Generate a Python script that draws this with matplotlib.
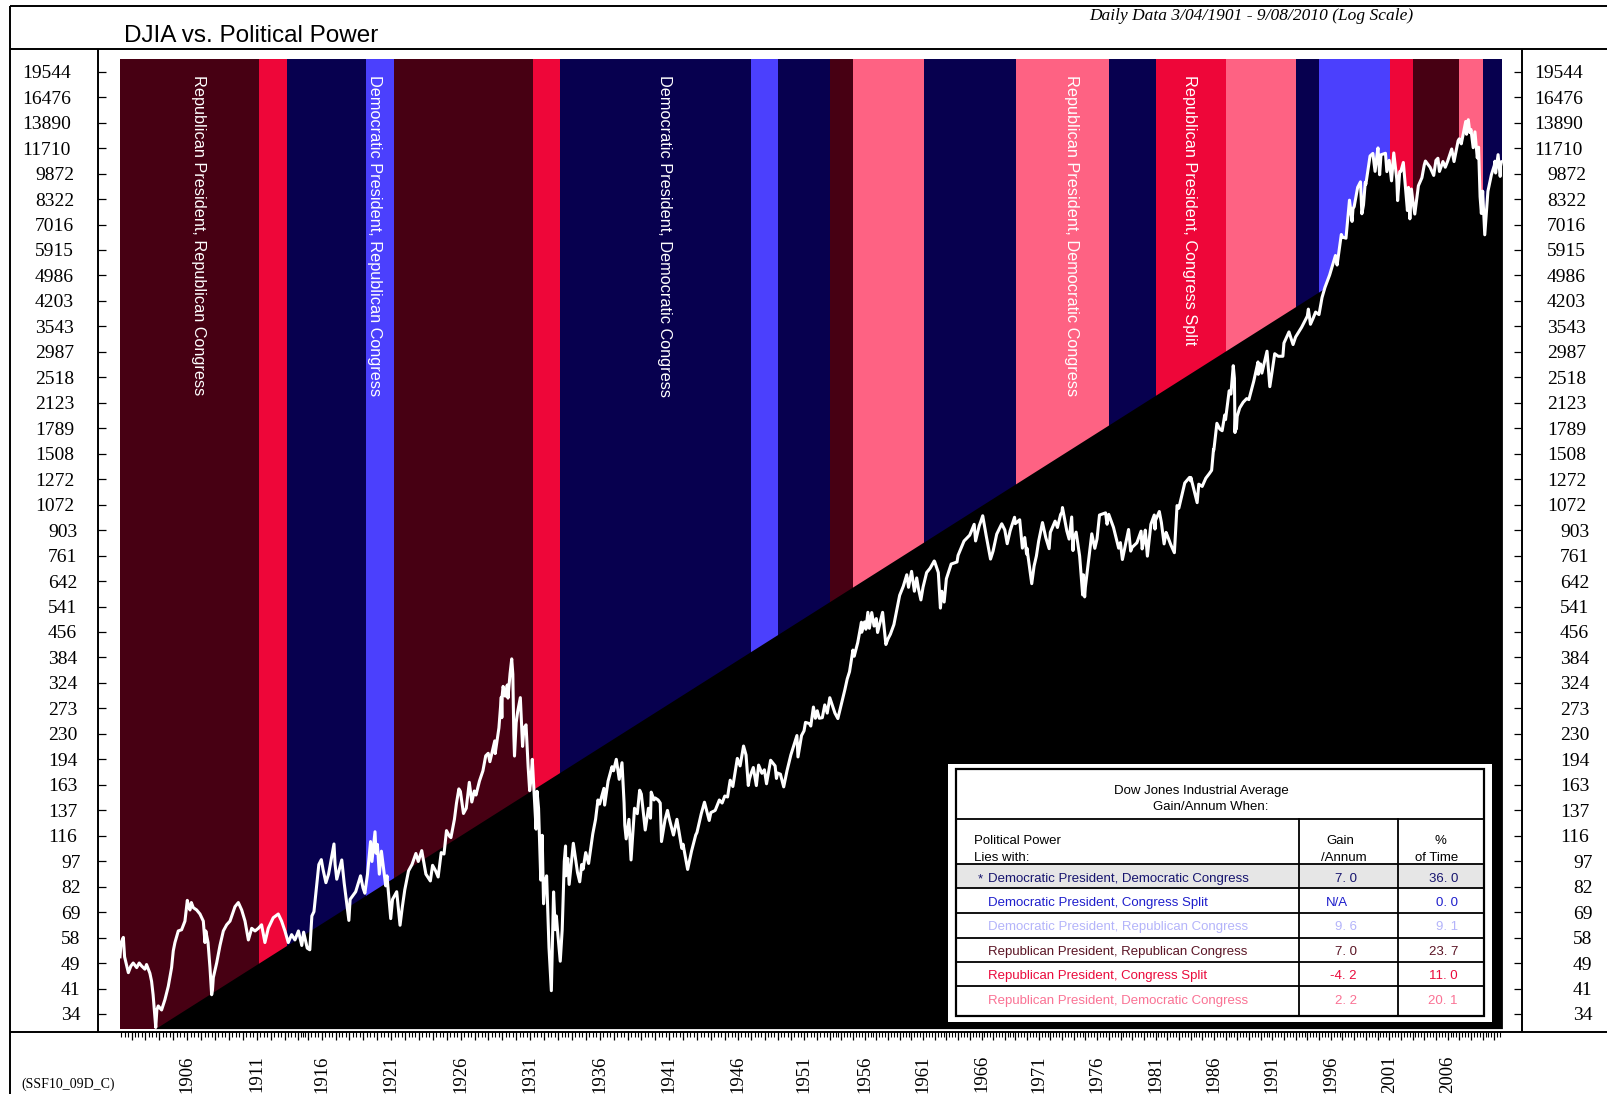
import numpy as np
import matplotlib.pyplot as plt
from matplotlib.patches import Rectangle
from matplotlib.ticker import FixedLocator, NullLocator
from matplotlib.transforms import blended_transform_factory

W, H = 1608, 1094
SERIF = ['Liberation Serif', 'DejaVu Serif']
SANS = ['Liberation Sans', 'DejaVu Sans']
plt.rcParams['font.family'] = SERIF

# trading sessions per calendar year: Saturday sessions before 1952,
# exchange shut Aug-Dec 1914, Wednesday closings in 1968
td_first_year = 1901
td_counts = np.array([300] * 13 + [200] + [300] * 30 + [285] * 7 + [265]
                     + [252] * 15 + [226] + [252] * 43)
td_start = np.concatenate([[0], np.cumsum(td_counts)])


def tday(t):
    t = np.asarray(t, dtype=float)
    yr = np.floor(t).astype(int)
    i = yr - td_first_year
    return td_start[i] + (t - yr) * td_counts[i]


# ---- DJIA (decimal year, close) ----
dates_1901 = [1901.17, 1901.25, 1901.41, 1901.50, 1901.77, 1901.95, 1902.12, 1902.37, 1902.55, 1902.73,
              1902.96, 1903.08, 1903.32, 1903.44, 1903.55, 1903.65, 1903.74, 1903.82, 1903.92, 1904.16,
              1904.40, 1904.64, 1904.88, 1905.00, 1905.12, 1905.36, 1905.60, 1905.84, 1906.01, 1906.10,
              1906.20, 1906.30, 1906.44, 1906.68, 1906.92, 1907.16, 1907.28, 1907.34, 1907.50, 1907.64,
              1907.76, 1907.82, 1907.88, 1908.12, 1908.36, 1908.60, 1908.84, 1909.08, 1909.44, 1909.68,
              1909.92, 1910.16, 1910.40, 1910.64, 1910.88, 1911.12, 1911.35, 1911.59, 1911.83, 1912.19,
              1912.55, 1912.79, 1913.03, 1913.27, 1913.51, 1913.75, 1914.00, 1914.36, 1914.56, 1914.95,
              1915.15, 1915.30, 1915.45, 1915.60, 1915.80, 1915.98, 1916.10, 1916.31, 1916.50, 1916.70,
              1916.89, 1916.97, 1917.09, 1917.45, 1917.62, 1917.96, 1918.05, 1918.45, 1918.80, 1918.98,
              1919.11, 1919.30, 1919.52, 1919.62, 1919.84, 1919.91, 1919.98, 1920.01, 1920.15, 1920.30,
              1920.61, 1920.70, 1920.97]
values_1901 = [51.7, 56.9, 58.9, 51.7, 46.5, 48.6, 49.6, 48.1, 49.6, 48.6,
               47.6, 49.1, 46.3, 43.9, 40.1, 35.7, 32.2, 36.2, 37.2, 36.2,
               38.8, 42.4, 48.1, 53.8, 56.9, 61.5, 62.0, 65.7, 75.5, 72.4,
               70.8, 74.4, 71.9, 70.8, 68.9, 65.7, 56.9, 61.5, 56.9, 48.1,
               40.1, 41.4, 45.0, 49.6, 55.8, 61.5, 64.1, 65.7, 72.4, 74.4,
               70.8, 65.7, 57.9, 62.6, 61.5, 62.6, 64.1, 56.9, 62.6, 67.2,
               68.9, 65.7, 61.5, 56.9, 60.0, 57.9, 61.5, 55.8, 61.0, 54.8,
               54.2, 68, 70, 80, 96, 99.2, 93, 85, 90, 100,
               110.2, 96, 87, 99, 85, 66, 76, 80, 89, 82,
               79.2, 90, 112, 98, 119.6, 103.6, 107, 109.9, 90, 105,
               83.2, 89, 66.8]

dates_1921 = [1921.10, 1921.40, 1921.64, 1921.80, 1921.98, 1922.25, 1922.50, 1922.78, 1922.95, 1923.20,
              1923.50, 1923.82, 1923.98, 1924.20, 1924.38, 1924.60, 1924.80, 1924.98, 1925.20, 1925.30,
              1925.55, 1925.70, 1925.87, 1925.98, 1926.20, 1926.40, 1926.62, 1926.80, 1926.98, 1927.10,
              1927.35, 1927.60, 1927.80, 1927.98, 1928.10, 1928.45, 1928.48, 1928.75, 1928.92, 1928.96,
              1928.99, 1929.05, 1929.20, 1929.35, 1929.40, 1929.55, 1929.67, 1929.75, 1929.82, 1929.87,
              1929.99, 1930.10, 1930.29, 1930.45, 1930.55, 1930.70, 1930.85, 1930.96, 1931.06, 1931.15,
              1931.42, 1931.49, 1931.60, 1931.76, 1931.86, 1931.96, 1932.05, 1932.18, 1932.35, 1932.52,
              1932.68, 1932.80, 1932.88, 1932.99, 1933.16, 1933.30, 1933.45, 1933.54, 1933.56, 1933.70,
              1933.80, 1933.99, 1934.10, 1934.40, 1934.56, 1934.70, 1934.80, 1934.99, 1935.20, 1935.50,
              1935.70, 1935.87, 1935.99, 1936.30, 1936.35, 1936.60, 1936.88, 1936.99, 1937.19, 1937.40,
              1937.60, 1937.75, 1937.80, 1937.90, 1937.99, 1938.10, 1938.25, 1938.50, 1938.70, 1938.87,
              1938.99, 1939.27, 1939.50, 1939.65, 1939.70, 1939.90, 1939.99, 1940.20, 1940.35, 1940.44,
              1940.70, 1940.87, 1940.99, 1941.30, 1941.55, 1941.90, 1941.99, 1942.32, 1942.60, 1942.90,
              1942.99, 1943.30, 1943.53, 1943.87, 1943.99, 1944.30, 1944.60, 1944.80, 1944.99]
values_1921 = [76, 80, 63.9, 72, 81, 92, 96, 103.4, 98, 105.4,
               90, 86, 95.5, 92, 88.3, 104, 103, 120.5, 116, 115,
               130, 145, 159.4, 156.7, 135.2, 140, 166.6, 146, 157.2, 153,
               168, 180, 199, 202.4, 191.3, 220, 202, 240, 295, 257,
               300, 317, 297, 320, 293, 345, 381.2, 344, 230, 198.7,
               248.5, 268, 294, 212, 240, 245, 185, 157.5, 171, 194.4,
               121.7, 156.9, 140, 86.5, 116.8, 73.8, 85, 89, 55, 41.2,
               79.9, 62, 68, 60, 50.2, 62, 98, 108.7, 89, 100,
               84, 99.9, 110.7, 91, 85.5, 96, 93, 104, 96.7, 118,
               130, 148, 144, 160, 143, 168, 185, 180, 194.4, 170,
               190, 145, 125, 114, 121, 130, 99, 140, 135, 158,
               154, 121, 140, 131, 156, 148, 150, 148, 145, 112,
               130, 138, 131, 117, 130, 107, 110, 92.9, 105, 117,
               119, 135, 145.8, 129, 136, 138, 148, 145, 152]

dates_1945 = [1945.20, 1945.40, 1945.60, 1945.94, 1945.99, 1946.15, 1946.41, 1946.60, 1946.77, 1946.85,
              1946.99, 1947.15, 1947.38, 1947.55, 1947.80, 1947.99, 1948.15, 1948.46, 1948.80, 1948.90,
              1948.99, 1949.20, 1949.45, 1949.70, 1949.99, 1950.45, 1950.53, 1950.80, 1950.99, 1951.10,
              1951.40, 1951.50, 1951.70, 1951.85, 1951.99, 1952.15, 1952.40, 1952.60, 1952.80, 1952.99,
              1953.01, 1953.45, 1953.70, 1953.99, 1954.30, 1954.50, 1954.70, 1954.99, 1955.10, 1955.40,
              1955.72, 1955.74, 1955.90, 1955.99, 1956.10, 1956.27, 1956.40, 1956.60, 1956.80, 1956.99,
              1957.10, 1957.53, 1957.81, 1957.99, 1958.20, 1958.50, 1958.80, 1958.99, 1959.30, 1959.60,
              1959.75, 1959.99, 1960.01, 1960.25, 1960.45, 1960.60, 1960.81, 1960.99, 1961.30, 1961.60,
              1961.95, 1961.99, 1962.30, 1962.48, 1962.60, 1962.80, 1962.99, 1963.40, 1963.90, 1963.99,
              1964.50, 1964.99, 1965.37, 1965.49, 1965.80, 1965.99, 1966.10, 1966.40, 1966.77, 1966.99,
              1967.30, 1967.73, 1967.99, 1968.22, 1968.50, 1968.92, 1968.99, 1969.37, 1969.60, 1969.80,
              1969.96, 1969.99, 1970.40, 1970.60, 1970.80, 1970.99]
values_1945 = [151, 169, 162, 195.6, 192.9, 186, 212.5, 200, 163.1, 170,
               177.2, 184, 163, 187, 177, 181.2, 165, 193.2, 186, 171,
               177.3, 176, 161.6, 180, 200.1, 228, 197.5, 228, 235.4, 249,
               247, 243, 276, 256, 269.2, 256, 257, 280, 265, 291.9,
               293.8, 265, 255.5, 280.9, 310, 333, 350, 404.4, 388, 425,
               487.5, 455.6, 480, 488.4, 465, 521, 468, 520, 475, 499.5,
               455, 520.8, 419.8, 435.7, 450, 480, 540, 583.7, 620, 670,
               616, 679.4, 685.5, 600, 656, 610, 566, 615.9, 680, 700,
               734.9, 731.1, 680, 535.8, 600, 558, 652.1, 720, 730, 763,
               840, 874.1, 939.6, 840.6, 930, 969.3, 995.2, 870, 744.3, 785.7,
               880, 943.1, 905.1, 825.1, 900, 985.2, 943.8, 968.9, 801, 860,
               769.9, 800.4, 631.2, 710, 760, 838.9]

dates_1971 = [1971.32, 1971.60, 1971.89, 1971.99, 1972.40, 1972.60, 1972.87, 1972.99, 1973.03, 1973.40,
              1973.60, 1973.82, 1973.93, 1973.99, 1974.20, 1974.50, 1974.76, 1974.82, 1974.93, 1974.99,
              1975.54, 1975.80, 1975.99, 1976.20, 1976.72, 1976.85, 1976.99, 1977.40, 1977.84, 1977.99,
              1978.16, 1978.69, 1978.87, 1978.99, 1979.40, 1979.76, 1979.85, 1979.99, 1980.12, 1980.30,
              1980.60, 1980.89, 1980.95, 1980.99, 1981.32, 1981.50, 1981.73, 1981.90, 1981.99, 1982.30,
              1982.61, 1982.84, 1982.99, 1983.50, 1983.91, 1983.99, 1984.02, 1984.56, 1984.70, 1984.99,
              1985.30, 1985.60, 1985.80, 1985.96, 1985.99, 1986.25, 1986.50, 1986.70, 1986.92, 1986.99,
              1987.30, 1987.45, 1987.65, 1987.75, 1987.80, 1987.85, 1987.92, 1987.99, 1988.20, 1988.50,
              1988.80, 1988.99, 1989.40, 1989.77, 1989.79, 1989.90, 1989.99, 1990.10, 1990.54, 1990.78,
              1990.99, 1991.20, 1991.50, 1991.90, 1991.99, 1992.42, 1992.77, 1992.99, 1993.50, 1993.99,
              1994.08, 1994.26, 1994.50, 1994.70, 1994.99, 1995.25, 1995.50, 1995.90, 1995.99]
values_1971 = [950.8, 860, 798, 890.2, 960, 920, 1003.2, 1020, 1051.7, 900,
               851, 987, 788.3, 850.9, 891.7, 760, 585, 670, 577.6, 616.2,
               881.8, 800, 852.4, 1000, 1014.8, 940, 1004.7, 920, 800.9, 831.2,
               742.1, 907.7, 785.3, 805, 830, 897.6, 796.7, 838.7, 903.8, 759.1,
               940, 1000.2, 910, 964, 1024, 950, 824, 890, 875, 820,
               776.9, 1065.5, 1046.5, 1240, 1287.2, 1258.6, 1286.6, 1086.6, 1230, 1211.6,
               1280, 1320, 1350, 1553, 1546.7, 1850, 1780, 1760, 1955.6, 1896,
               2300, 2250, 2722.4, 2500, 1738.7, 1950, 1780, 1938.8, 2050, 2130,
               2183, 2168.6, 2450, 2791.4, 2569, 2700, 2753.2, 2590, 3000, 2365,
               2633.7, 2950, 2900, 2900, 3168.8, 3413, 3136.6, 3301.1, 3520, 3794.3,
               3978.4, 3593.4, 3750, 3900, 3834.4, 4300, 4600, 5000, 5117.1]

dates_1996 = [1996.40, 1996.54, 1996.90, 1997.00, 1997.30, 1997.60, 1997.82, 1997.90, 1998.00, 1998.30,
              1998.54, 1998.66, 1998.80, 1998.95, 1999.00, 1999.36, 1999.60, 1999.79, 2000.00, 2000.04,
              2000.18, 2000.30, 2000.68, 2000.80, 2001.00, 2001.20, 2001.39, 2001.65, 2001.72, 2001.90,
              2002.00, 2002.21, 2002.56, 2002.65, 2002.77, 2002.90, 2003.00, 2003.19, 2003.50, 2003.80,
              2004.00, 2004.10, 2004.50, 2004.81, 2005.00, 2005.17, 2005.30, 2005.60, 2005.80, 2006.00,
              2006.35, 2006.55, 2006.90, 2007.00, 2007.17, 2007.55, 2007.62, 2007.77, 2007.90, 2008.00,
              2008.19, 2008.34, 2008.54, 2008.65, 2008.78, 2008.89, 2009.00, 2009.18, 2009.45, 2009.75,
              2010.00, 2010.05, 2010.11, 2010.32, 2010.50, 2010.61, 2010.69]
values_1996 = [5700, 5346, 6561, 6448, 6400, 8259, 7161, 7800, 7908, 9000,
               9338, 7539, 8000, 9300, 9181, 11107, 11300, 10019, 11497, 11723,
               9796, 11200, 11310, 10000, 10787, 9400, 11338, 9500, 8236, 10000,
               10022, 10635, 7702, 9000, 7286, 8900, 8342, 7524, 9100, 9600,
               10454, 10737, 10300, 9750, 10783, 10940, 10012, 10700, 10300, 10718,
               11640, 10700, 12300, 12463, 12050, 14000, 12845, 14165, 13000, 13265,
               11740, 13058, 10962, 11782, 8451, 7552, 8776, 6547, 8763, 9800,
               10428, 10725, 9908, 11205, 9686, 10698, 10387]

# ---- political power periods ----
period_starts = [1901.17, 1911.17, 1913.17, 1919.17, 1921.17, 1931.17, 1933.17, 1947.0, 1949.0, 1953.05,
                 1955.0, 1961.05, 1969.05, 1977.05, 1981.05, 1987.0, 1993.05, 1995.0, 2001.05, 2003.0,
                 2007.0, 2009.05]
period_end = 2010.69
period_power = ['RR', 'RS', 'DD', 'DR', 'RR', 'RS', 'DD', 'DR', 'DD', 'RR',
                'RD', 'DD', 'RD', 'DD', 'RS', 'RD', 'DD', 'DR', 'RS', 'RR',
                'RD', 'DD']
power_colors = {'RR': '#470013', 'RS': '#ee0639', 'RD': '#fe6283',
                'DD': '#07004f', 'DR': '#4b40fd', 'DS': '#2020d0'}

band_labels = ['Republican President, Republican Congress',
               'Democratic President, Republican Congress',
               'Democratic President, Democratic Congress',
               'Republican President, Democratic Congress',
               'Republican President, Congress Split']
band_label_dates = [1906.78, 1919.77, 1940.65, 1973.84, 1983.9]

# trend line from the 1903 low to the 1995 crossing
diag_dates = [1903.70, 1995.35]
diag_values = [31.95, 4550]

ytick_labels = ['34', '41', '49', '58', '69', '82', '97', '116', '137', '163', '194', '230', '273',
                '324', '384', '456', '541', '642', '761', '903', '1072', '1272', '1508', '1789',
                '2123', '2518', '2987', '3543', '4203', '4986', '5915', '7016', '8322', '9872',
                '11710', '13890', '16476', '19544']
label_years = list(range(1906, 2007, 5))

legend_rows = ['Democratic President, Democratic Congress',
               'Democratic President, Congress Split',
               'Democratic President, Republican Congress',
               'Republican President, Republican Congress',
               'Republican President, Congress Split',
               'Republican President, Democratic Congress']
legend_gain = ['7. 0', 'N/A', '9. 6', '7. 0', '-4. 2', '2. 2']
legend_time = ['36. 0', '0. 0', '9. 1', '23. 7', '11. 0', '20. 1']
legend_colors = ['#16146e', '#1e1ecc', '#b4b4fa', '#5a1424', '#ea0a3c', '#fa7294']

dates = np.concatenate([dates_1901, dates_1921, dates_1945, dates_1971, dates_1996])
values = np.concatenate([values_1901, values_1921, values_1945, values_1971, values_1996])
x = tday(dates)

# ---- geometry (pixels of the 1608x1094 canvas) ----
PL, PT, PR, PB = 120, 58.5, 1502.4, 1028.6
TICK_TOP, TICK_BOT = 71.7, 1014.0


def px_rect(x0, y0, x1, y1):
    return [x0 / W, 1 - y1 / H, (x1 - x0) / W, (y1 - y0) / H]


fig = plt.figure(figsize=(W / 100, H / 100), dpi=100)

tick_vals = np.array([float(v) for v in ytick_labels])
r = tick_vals[-1] / tick_vals[-2]
n = len(tick_vals) - 1
tick_pos = tick_vals[-1] / r ** np.arange(n, -1, -1)
px_per_tick = (TICK_BOT - TICK_TOP) / n
ylo = tick_pos[0] / r ** ((PB - TICK_BOT) / px_per_tick)
yhi = tick_pos[-1] * r ** ((TICK_TOP - PT) / px_per_tick)

x0, x1 = tday(period_starts[0]), tday(period_end)

ax = fig.add_axes(px_rect(PL, PT, PR, PB))
ax.set_yscale('log')
ax.set_xlim(x0, x1)
ax.set_ylim(ylo, yhi)
for s in ax.spines.values():
    s.set_visible(False)
ax.spines['bottom'].set_position(('outward', 2.6))
ax.yaxis.set_major_locator(NullLocator())
ax.yaxis.set_minor_locator(NullLocator())

ends = period_starts[1:] + [period_end]
for s, e, p in zip(period_starts, ends, period_power):
    ax.axvspan(tday(s), tday(e), color=power_colors[p], lw=0, zorder=1)

xg = np.linspace(x0, x1, 6000)
dx = tday(diag_dates)
slope = (np.log(diag_values[1]) - np.log(diag_values[0])) / (dx[1] - dx[0])
diag = np.exp(np.log(diag_values[0]) + slope * (xg - dx[0]))
djia = np.exp(np.interp(xg, x, np.log(values)))
top = np.where(xg < dx[1], diag, djia)
ax.fill_between(xg, ylo, np.maximum(top, ylo), color='black', lw=0, zorder=2)

ax.plot(x, values, color='white', lw=2.2, zorder=3)

trans = blended_transform_factory(ax.transData, ax.transAxes)
for lab, d in zip(band_labels, band_label_dates):
    ax.text(tday(d), 1 - (75 - PT) / (PB - PT), lab, rotation=-90, ha='center', va='top',
            color='white', fontsize=11.7, family=SANS, transform=trans, zorder=4)

years = np.arange(1902, 2011)
ax.set_xticks(tday(years))
ax.set_xticklabels([str(y) if y in label_years else '' for y in years])
quarters = np.array([y + q for y in range(1901, 2011) for q in (0.25, 0.5, 0.75)])
quarters = quarters[(quarters > period_starts[0]) & (quarters < period_end)]
ax.xaxis.set_minor_locator(FixedLocator(tday(quarters)))
ax.tick_params(axis='x', which='major', direction='out', length=6, width=0.9,
               pad=10.5, labelrotation=90, labelsize=13.5)
ax.tick_params(axis='x', which='minor', direction='out', length=3.6, width=0.8)

# outer y axes, ticks pointing in
fax = fig.add_axes(px_rect(98, PT, 1522, PB))
fax.set_yscale('log')
fax.set_ylim(ylo, yhi)
fax.patch.set_visible(False)
fax.set_xticks([])
for s in fax.spines.values():
    s.set_visible(False)
fax.yaxis.set_major_locator(FixedLocator(tick_pos))
fax.yaxis.set_minor_locator(NullLocator())
fax.tick_params(axis='y', direction='in', length=6, width=0.9, left=True, right=True,
                labelleft=False, labelright=False)

# overlay in canvas pixels: frame, titles, labels, table
ov = fig.add_axes([0, 0, 1, 1])
ov.set_xlim(0, W)
ov.set_ylim(H, 0)
ov.axis('off')
ov.set_zorder(10)

# y labels sit in a fixed 5-character field: padding cells are wider than digits
ylab_t = blended_transform_factory(ov.transData, fax.transData)
for v, lab in zip(tick_pos, ytick_labels):
    off = (5 - len(lab)) * 13
    ov.text(22 + off, v, lab, transform=ylab_t, ha='left', va='center_baseline', fontsize=14)
    ov.text(1534 + off, v, lab, transform=ylab_t, ha='left', va='center_baseline', fontsize=14)

lk = dict(color='black', lw=1.4, solid_capstyle='butt')
ov.plot([10, W], [6, 6], **lk)
ov.plot([10, 10], [6, H], **lk)
ov.plot([10, W], [49, 49], **lk)
ov.plot([10, W], [1032, 1032], **lk)
ov.plot([98, 98], [49, 1032], **lk)
ov.plot([1522, 1522], [49, 1032], **lk)

ov.text(124, 41.7, 'DJIA vs. Political Power', fontsize=17.5, family=SANS, va='baseline', ha='left')
ov.text(1251, 20.5, 'Daily Data 3/04/1901 - 9/08/2010 (Log Scale)', fontsize=12.5,
        style='italic', va='baseline', ha='center')
ov.text(21, 1084, '(SSF10_09D_C)', fontsize=10, va='center', ha='left')

# table
TL, TR_, TT, TB = 955.8, 1483.8, 768.6, 1015.8
C1, C2 = 1299.5, 1398.0
row_edges = [864.3, 888.3, 912.7, 937.7, 961.7, 986.0, TB]
ov.add_patch(Rectangle((947.6, 764), 1492.1 - 947.6, 1022.4 - 764, fc='white', ec='none'))
ov.add_patch(Rectangle((TL, row_edges[0]), TR_ - TL, row_edges[1] - row_edges[0],
                       fc='#e6e6e6', ec='none'))
ov.add_patch(Rectangle((TL, TT), TR_ - TL, TB - TT, fc='none', ec='black', lw=1.6))
tl = dict(color='black', lw=1.3)
ov.plot([TL, TR_], [819.3, 819.3], **tl)
for yy in row_edges[:-1]:
    ov.plot([TL, TR_], [yy, yy], **tl)
ov.plot([C1, C1], [819.3, TB], **tl)
ov.plot([C2, C2], [819.3, TB], **tl)

fs = 9.5
tx = dict(fontsize=fs, family=SANS, va='center_baseline')
ov.text(1201.5, 789.5, 'Dow Jones Industrial Average', ha='center', **tx)
ov.text(1210.5, 805.5, 'Gain/Annum When:', ha='center', **tx)
ov.text(974, 840, 'Political Power', ha='left', **tx)
ov.text(974, 856.5, 'Lies with:', ha='left', **tx)
ov.text(1340, 840, 'Gain', ha='center', **tx)
ov.text(1343.6, 856.5, '/Annum', ha='center', **tx)
ov.text(1440, 840, '%', ha='center', **tx)
ov.text(1436.4, 856.5, 'of Time', ha='center', **tx)
ov.text(980, 877.5, '*', ha='center', color=legend_colors[0], **tx)

for i, (name, g, t, c) in enumerate(zip(legend_rows, legend_gain, legend_time, legend_colors)):
    yc = row_edges[i] + 13.2
    ov.text(988.2, yc, name, ha='left', color=c, **tx)
    if g == 'N/A':
        ov.text(1337, yc, g, ha='center', color=c, **tx)
    else:
        ov.text(1356.8, yc, g, ha='right', color=c, **tx)
    ov.text(1457.9, yc, t, ha='right', color=c, **tx)

fig.savefig('out.png', dpi=100)
